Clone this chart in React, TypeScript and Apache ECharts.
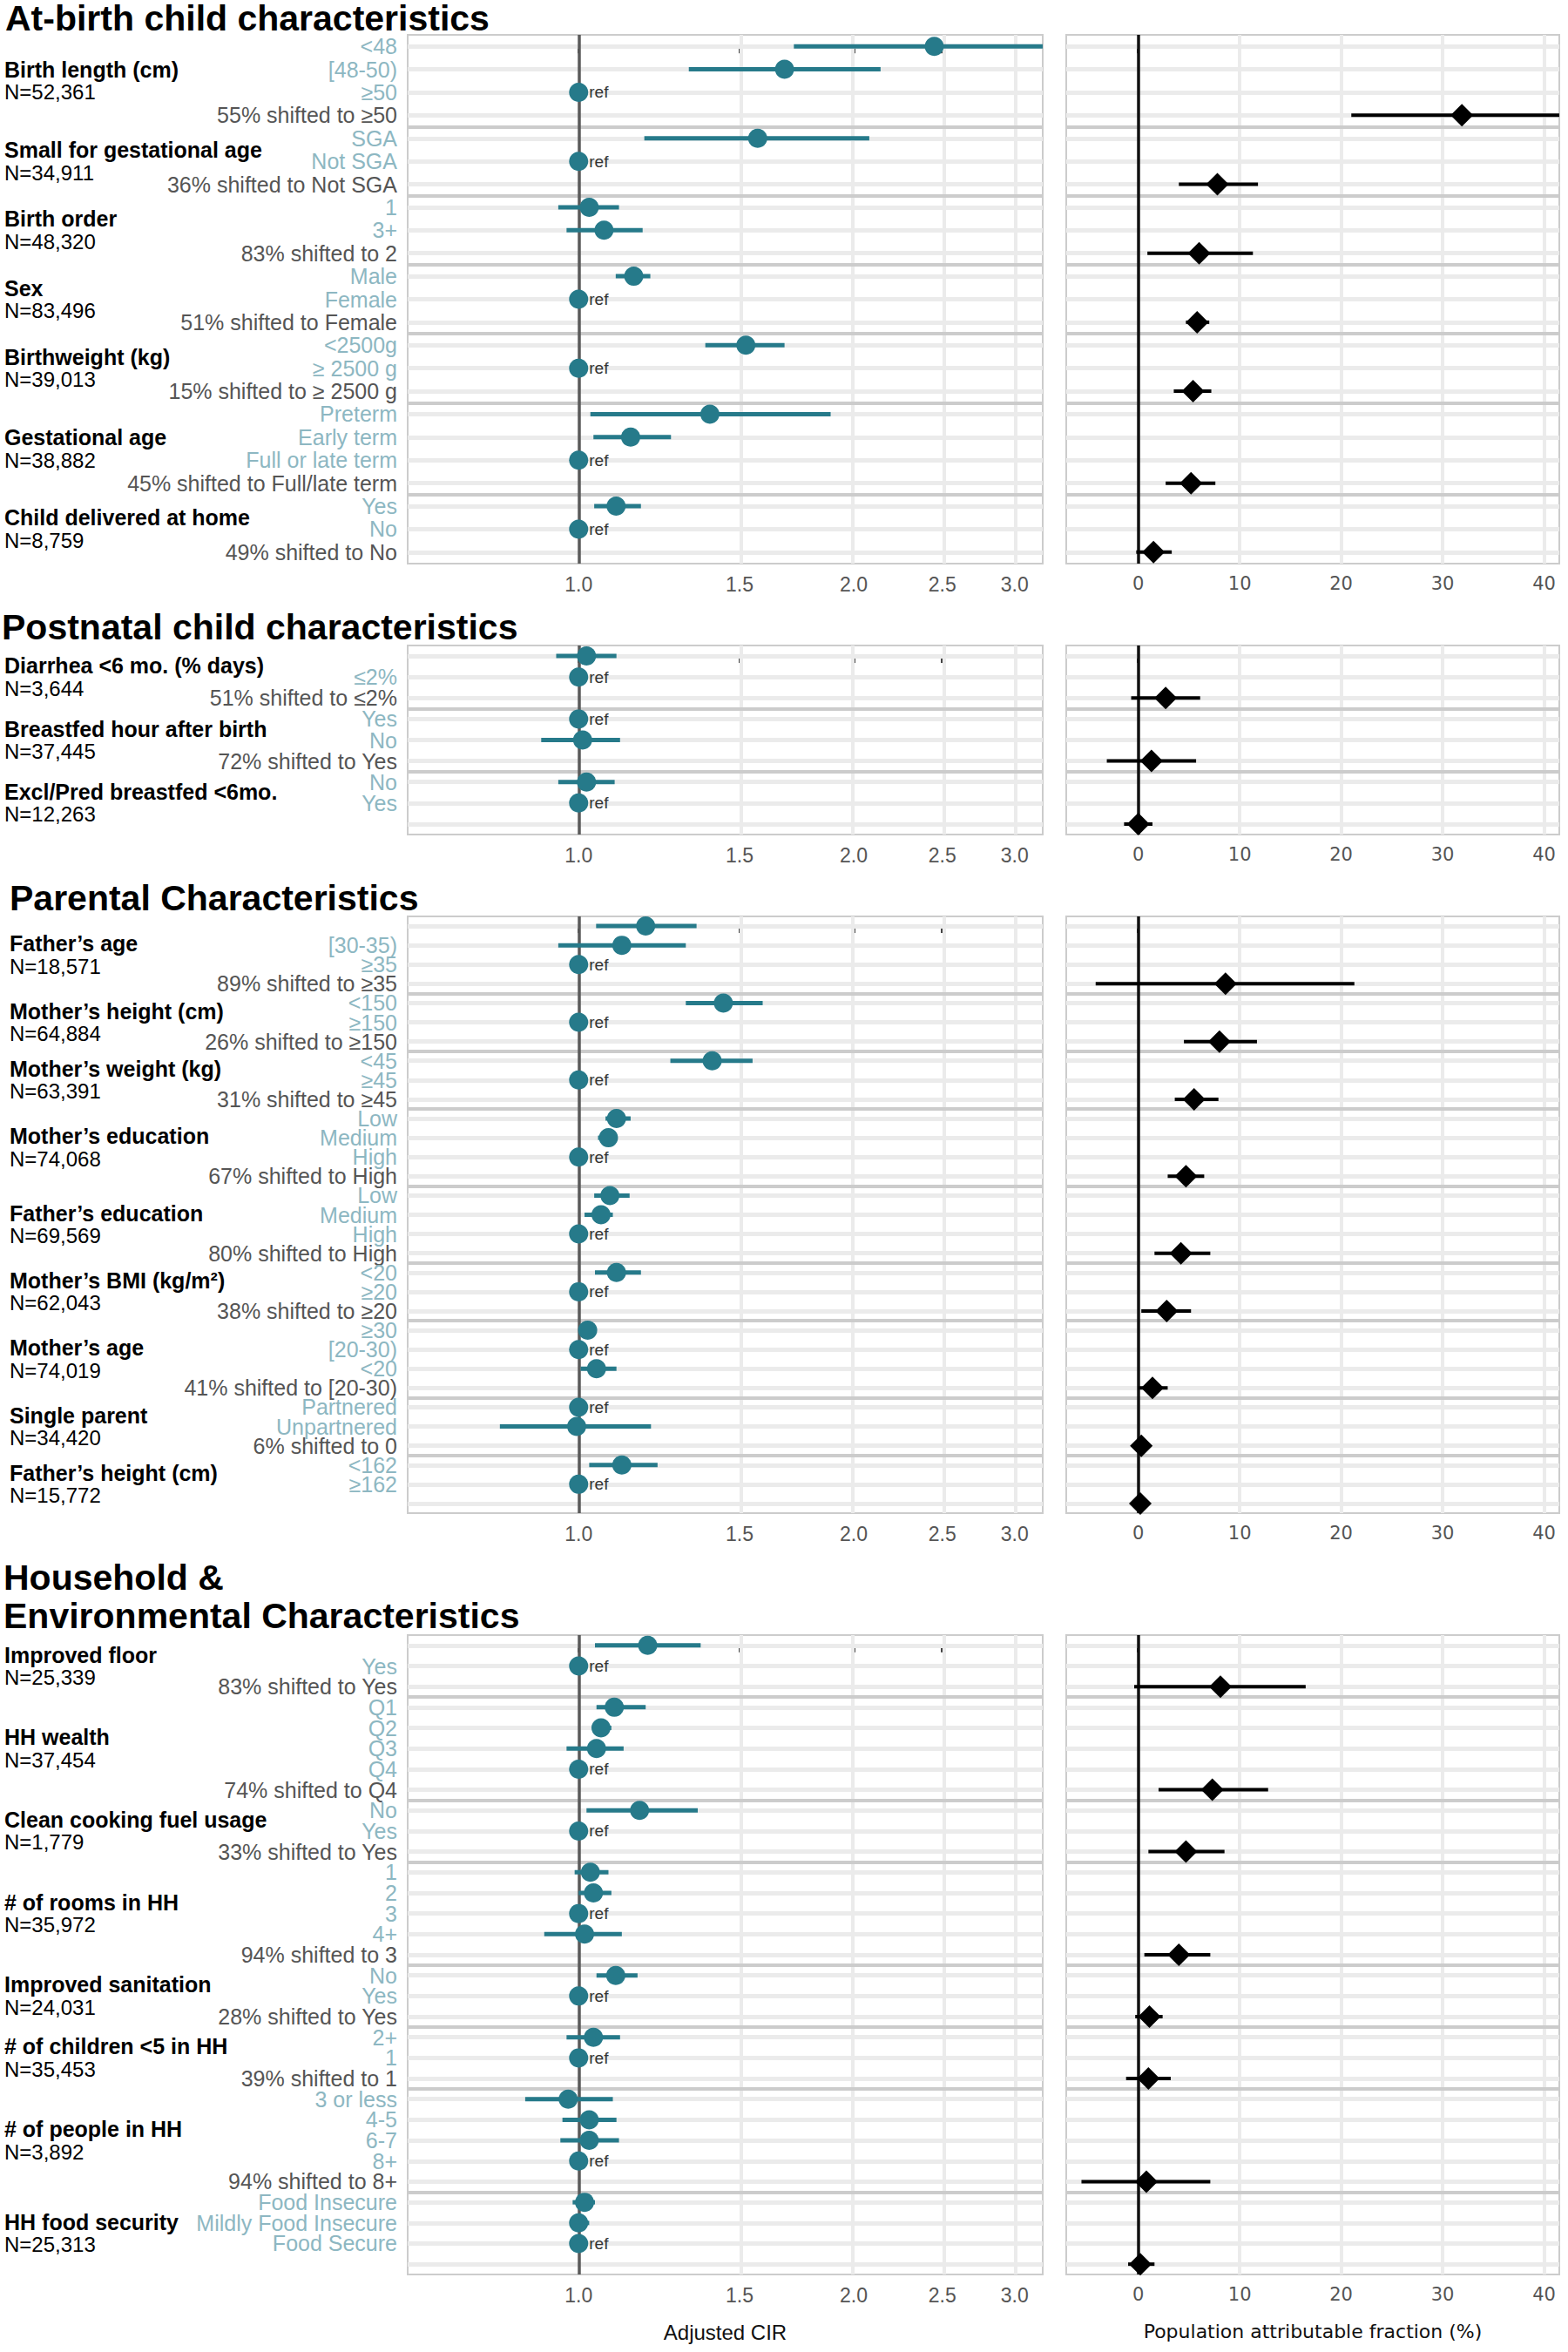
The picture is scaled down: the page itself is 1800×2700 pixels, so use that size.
import React, { useEffect, useRef } from "react";
import * as echarts from "echarts";

const sectionTitles = ["At-birth child characteristics", "Postnatal child characteristics", "Parental Characteristics", "Household &\nEnvironmental Characteristics"];
const groupSection = [0, 0, 0, 0, 0, 0, 0, 1, 1, 1, 2, 2, 2, 2, 2, 2, 2, 2, 2, 3, 3, 3, 3, 3, 3, 3, 3];
const groupNames = [
  "Birth length (cm)", "Small for gestational age", "Birth order", "Sex", "Birthweight (kg)", "Gestational age", "Child delivered at home",
  "Diarrhea <6 mo. (% days)", "Breastfed hour after birth", "Excl/Pred breastfed <6mo.",
  "Father’s age", "Mother’s height (cm)", "Mother’s weight (kg)", "Mother’s education", "Father’s education", "Mother’s BMI (kg/m²)", "Mother’s age", "Single parent", "Father’s height (cm)",
  "Improved floor", "HH wealth", "Clean cooking fuel usage", "# of rooms in HH", "Improved sanitation", "# of children <5 in HH", "# of people in HH", "HH food security",
];
const groupN = [
  "52,361", "34,911", "48,320", "83,496", "39,013", "38,882", "8,759",
  "3,644", "37,445", "12,263",
  "18,571", "64,884", "63,391", "74,068", "69,569", "62,043", "74,019", "34,420", "15,772",
  "25,339", "37,454", "1,779", "35,972", "24,031", "35,453", "3,892", "25,313",
];
const groupLevels = [
  ["<48", "[48-50)", "≥50"], ["SGA", "Not SGA"], ["1", "3+"], ["Male", "Female"], ["<2500g", "≥ 2500 g"], ["Preterm", "Early term", "Full or late term"], ["Yes", "No"],
  [">2%", "≤2%"], ["Yes", "No"], ["No", "Yes"],
  ["<30", "[30-35)", "≥35"], ["<150", "≥150"], ["<45", "≥45"], ["Low", "Medium", "High"], ["Low", "Medium", "High"], ["<20", "≥20"], ["≥30", "[20-30)", "<20"], ["Partnered", "Unpartnered"], ["<162", "≥162"],
  ["No", "Yes"], ["Q1", "Q2", "Q3", "Q4"], ["No", "Yes"], ["1", "2", "3", "4+"], ["No", "Yes"], ["2+", "1"], ["3 or less", "4-5", "6-7", "8+"], ["Food Insecure", "Mildly Food Insecure", "Food Secure"],
];
const shiftLabels = [
  "55% shifted to ≥50", "36% shifted to Not SGA", "83% shifted to 2", "51% shifted to Female", "15% shifted to ≥ 2500 g", "45% shifted to Full/late term", "49% shifted to No",
  "51% shifted to ≤2%", "72% shifted to Yes", "32% shifted to Yes",
  "89% shifted to ≥35", "26% shifted to ≥150", "31% shifted to ≥45", "67% shifted to High", "80% shifted to High", "38% shifted to ≥20", "41% shifted to [20-30)", "6% shifted to 0", "4% shifted to ≥162",
  "83% shifted to Yes", "74% shifted to Q4", "33% shifted to Yes", "94% shifted to 3", "28% shifted to Yes", "39% shifted to 1", "94% shifted to 8+", "50% shifted to Food Secure",
];
// CIR per level (1 = reference)
const cirEst = [
  [2.45, 1.68, 1], [1.57, 1], [1.027, 1.066], [1.149, 1], [1.524, 1], [1.392, 1.14, 1], [1.099, 1],
  [1.02, 1], [1, 1.01], [1.02, 1],
  [1.184, 1.115, 1], [1.44, 1], [1.40, 1], [1.10, 1.078, 1], [1.082, 1.058, 1], [1.10, 1], [1.023, 1, 1.046], [1, 0.995], [1.115, 1],
  [1.19, 1], [1.094, 1.058, 1.046, 1], [1.166, 1], [1.03, 1.038, 1, 1.015], [1.098, 1], [1.038, 1], [0.974, 1.027, 1.027, 1], [1.015, 1.0, 1],
];
const cirLo = [
  [1.72, 1.32, 1], [1.18, 1], [0.95, 0.97], [1.098, 1], [1.376, 1], [1.03, 1.038, 1], [1.04, 1],
  [0.945, 1], [1, 0.91], [0.95, 1],
  [1.045, 0.95, 1], [1.31, 1], [1.26, 1], [1.07, 1.05, 1], [1.04, 1.015, 1], [1.042, 1], [1.0, 1, 1.005], [1, 0.82], [1.027, 1],
  [1.042, 1], [1.046, 1.04, 0.97, 1], [1.02, 1], [0.99, 1.0, 1, 0.917], [1.046, 1], [0.97, 1], [0.874, 0.96, 0.955, 1], [0.985, 0.98, 1],
];
const cirHi = [
  [3.6, 2.14, 1], [2.08, 1], [1.107, 1.175], [1.198, 1], [1.68, 1], [1.887, 1.262, 1], [1.17, 1],
  [1.1, 1], [1, 1.11], [1.095, 1],
  [1.346, 1.31, 1], [1.59, 1], [1.55, 1], [1.14, 1.098, 1], [1.137, 1.09, 1], [1.17, 1], [1.045, 1, 1.10], [1, 1.2], [1.22, 1],
  [1.36, 1], [1.184, 1.086, 1.12, 1], [1.35, 1], [1.078, 1.086, 1, 1.115], [1.16, 1], [1.11, 1], [1.09, 1.10, 1.107, 1], [1.042, 1.027, 1],
];
const refIndex = [2, 1, -1, 1, 1, 2, 1, 1, 0, 1, 2, 1, 1, 2, 2, 1, 1, 0, 1, 1, 3, 1, 2, 1, 1, 3, 2];
const pafEst = [31.9, 7.8, 6.0, 5.8, 5.4, 5.2, 1.5, 2.7, 1.3, 0.0, 8.6, 8.0, 5.5, 4.7, 4.2, 2.8, 1.4, 0.3, 0.2, 8.1, 7.3, 4.7, 4.0, 1.1, 1.0, 0.8, 0.2];
const pafLo = [21.0, 4.0, 0.9, 4.7, 3.5, 2.7, -0.2, -0.7, -3.1, -1.4, -4.2, 4.5, 3.6, 2.9, 1.6, 0.3, 0.0, -0.3, -0.2, -0.4, 2.0, 1.0, 0.6, -0.3, -1.2, -5.6, -1.0];
const pafHi = [43.0, 11.8, 11.3, 7.0, 7.2, 7.6, 3.3, 6.1, 5.7, 1.4, 21.3, 11.7, 7.9, 6.5, 7.1, 5.2, 2.9, 1.0, 0.6, 16.5, 12.8, 8.5, 7.1, 2.4, 3.2, 7.1, 1.6];

const cirTicks = [1.0, 1.5, 2.0, 2.5, 3.0];
const pafTicks = [0, 10, 20, 30, 40];

const TEAL = "#267a8a";
const LEVEL_COLOR = "#8db7c2";
const SHIFT_COLOR = "#555555";
const CIR_MIN = Math.log(0.65), CIR_MAX = Math.log(3.22);
const PAF_MIN = -7.1, PAF_MAX = 41.5;
const FONT = "Liberation Sans, Arial, sans-serif";

// layout (pixels)
const panelTops = [40, 741, 1052, 1877];
const panelBottoms = [647, 958, 1737, 2611];
const titleYs = [[21], [720], [1031], [1811, 1855]];
const titleXs = [6, 2, 11, 4];
const LEFT_X0 = 468, LEFT_X1 = 1197, RIGHT_X0 = 1224, RIGHT_X1 = 1790;

export default function App() {
  const ref = useRef<HTMLDivElement>(null);
  useEffect(() => {
    const chart = echarts.init(ref.current!, undefined, { renderer: "svg" });
    const grids: any[] = [], xAxes: any[] = [], yAxes: any[] = [], series: any[] = [];
    const groupRows: { s: number; g: number; first: number; last: number }[] = [];

    for (let s = 0; s < 4; s++) {
      const rows: { text: string; kind: string }[] = [];
      const pts: any[] = [], refPts: any[] = [], bars: any[] = [], pafPts: any[] = [], pafBars: any[] = [];
      const seps: number[] = [];
      groupNames.forEach((name, g) => {
        if (groupSection[g] !== s) return;
        if (rows.length) seps.push(rows.length - 0.5);
        const first = rows.length;
        groupLevels[g].forEach((lv, i) => {
          const r = rows.length;
          rows.push({ text: lv, kind: "l" });
          if (i === refIndex[g]) refPts.push([0, r]);
          else {
            pts.push([Math.log(cirEst[g][i]), r]);
            bars.push([Math.max(Math.log(cirLo[g][i]), CIR_MIN), Math.min(Math.log(cirHi[g][i]), CIR_MAX), r]);
          }
        });
        const r = rows.length;
        rows.push({ text: shiftLabels[g], kind: "s" });
        pafPts.push([pafEst[g], r]);
        pafBars.push([Math.max(pafLo[g], PAF_MIN), Math.min(pafHi[g], PAF_MAX), r]);
        groupRows.push({ s, g, first, last: r });
      });
      const n = rows.length;
      const rowIdx = rows.map((_, i) => i);
      const top = panelTops[s], h = panelBottoms[s] - panelTops[s];
      grids.push({ left: LEFT_X0, top, width: LEFT_X1 - LEFT_X0, height: h, show: true, borderColor: "#cccccc", borderWidth: 2, backgroundColor: "#fff" });
      grids.push({ left: RIGHT_X0, top, width: RIGHT_X1 - RIGHT_X0, height: h, show: true, borderColor: "#cccccc", borderWidth: 2, backgroundColor: "#fff" });
      const last = s === 3;
      xAxes.push({
        type: "value", gridIndex: 2 * s, min: CIR_MIN, max: CIR_MAX,
        axisLine: { show: false }, splitLine: { show: false },
        axisTick: { show: true, customValues: cirTicks.map(Math.log), length: 8, lineStyle: { color: "#444", width: 3 } },
        axisLabel: { customValues: cirTicks.map(Math.log), formatter: (v: number) => Math.exp(v).toFixed(1), fontSize: 23, color: "#555", fontFamily: FONT, margin: 12 },
        name: last ? "Adjusted CIR" : "", nameLocation: "middle", nameGap: 54, nameTextStyle: { fontSize: 24, color: "#111", fontFamily: FONT },
      });
      xAxes.push({
        type: "value", gridIndex: 2 * s + 1, min: PAF_MIN, max: PAF_MAX,
        axisLine: { show: false }, splitLine: { show: false },
        axisTick: { show: true, customValues: pafTicks, length: 8, lineStyle: { color: "#444", width: 3 } },
        axisLabel: { customValues: pafTicks, fontSize: 21, color: "#555", fontFamily: "DejaVu Sans, sans-serif", margin: 12 },
        name: last ? "Population attributable fraction (%)" : "", nameLocation: "middle", nameGap: 54, nameTextStyle: { fontSize: 22, color: "#111", fontFamily: "DejaVu Sans, sans-serif" },
      });
      yAxes.push({
        type: "value", gridIndex: 2 * s, inverse: true, min: -0.5, max: n - 0.5,
        axisLine: { show: false }, splitLine: { show: false },
        axisTick: { show: true, customValues: rowIdx, length: 9, lineStyle: { color: "#444", width: 3 } },
        axisLabel: {
          customValues: rowIdx, margin: 12, fontSize: 25, fontFamily: FONT,
          formatter: (v: number) => { const row = rows[Math.round(v)]; return row ? `{${row.kind}|${row.text}}` : ""; },
          rich: { l: { color: LEVEL_COLOR, fontSize: 25, fontFamily: FONT }, s: { color: SHIFT_COLOR, fontSize: 25, fontFamily: FONT } },
        },
      });
      yAxes.push({ type: "value", gridIndex: 2 * s + 1, inverse: true, min: -0.5, max: n - 0.5, axisLine: { show: false }, splitLine: { show: false }, axisTick: { show: false }, axisLabel: { show: false } });

      const rowLines = rowIdx.map((i) => ({ yAxis: i }));
      const sepLines = seps.map((v) => ({ yAxis: v }));
      const gridBase = (xi: number, vx: number[]) => ({
        type: "scatter", xAxisIndex: xi, yAxisIndex: xi, data: [], z: 1, silent: true,
        markLine: {
          z: 1, silent: true, symbol: "none", label: { show: false }, animation: false,
          data: [
            ...rowLines.map((d) => ({ ...d, lineStyle: { color: "#ebebeb", width: 5, type: "solid" } })),
            ...vx.map((x) => ({ xAxis: x, lineStyle: { color: "#ebebeb", width: 4, type: "solid" } })),
          ],
        },
      });
      const sepBase = (xi: number, zeroColor: string) => ({
        type: "scatter", xAxisIndex: xi, yAxisIndex: xi, data: [], z: 2, silent: true,
        markLine: {
          z: 2, silent: true, symbol: "none", label: { show: false }, animation: false,
          data: [
            ...sepLines.map((d) => ({ ...d, lineStyle: { color: "#cccccc", width: 4, type: "solid" } })),
            { xAxis: 0, lineStyle: { color: zeroColor, width: 3.5, type: "solid" } },
          ],
        },
      });
      series.push(gridBase(2 * s, cirTicks.slice(1).map(Math.log)));
      series.push(gridBase(2 * s + 1, pafTicks.slice(1)));
      series.push(sepBase(2 * s, "#5a5a5a"));
      series.push(sepBase(2 * s + 1, "#111111"));
      const bar = (xi: number, data: any[], color: string, w: number) => ({
        type: "custom", xAxisIndex: xi, yAxisIndex: xi, data, z: 3, clip: true,
        encode: { x: [0, 1], y: 2 },
        renderItem: (_p: any, api: any) => {
          const y = api.value(2);
          const a = api.coord([api.value(0), y]);
          const b = api.coord([api.value(1), y]);
          return { type: "line", shape: { x1: a[0], y1: a[1], x2: b[0], y2: b[1] }, style: { stroke: color, lineWidth: w } };
        },
      });
      series.push(bar(2 * s, bars, TEAL, 5));
      series.push(bar(2 * s + 1, pafBars, "#000", 4));
      series.push({ type: "scatter", xAxisIndex: 2 * s, yAxisIndex: 2 * s, data: pts, z: 4, symbol: "circle", symbolSize: 22, itemStyle: { color: TEAL, opacity: 1 } });
      series.push({
        type: "scatter", xAxisIndex: 2 * s, yAxisIndex: 2 * s, data: refPts, z: 4, symbol: "circle", symbolSize: 22, itemStyle: { color: TEAL, opacity: 1 },
        label: { show: true, position: "right", distance: 1, formatter: "ref", fontSize: 19, color: "#333", fontFamily: FONT },
      });
      series.push({ type: "scatter", xAxisIndex: 2 * s + 1, yAxisIndex: 2 * s + 1, data: pafPts, z: 4, symbol: "diamond", symbolSize: [26, 26], itemStyle: { color: "#000", opacity: 1 } });
    }

    const graphic: any[] = [];
    sectionTitles.forEach((t, s) => {
      t.split("\n").forEach((line, i) => {
        graphic.push({ type: "text", x: titleXs[s], y: titleYs[s][i], style: { text: line, fontSize: 41, fontWeight: "bold", fill: "#000", fontFamily: FONT, verticalAlign: "middle" } });
      });
    });

    chart.setOption({ animation: false, backgroundColor: "#fff", grid: grids, xAxis: xAxes, yAxis: yAxes, series });

    groupRows.forEach(({ s, g, first, last }) => {
      const p1 = chart.convertToPixel({ gridIndex: 2 * s } as any, [0, first]) as number[];
      const p2 = chart.convertToPixel({ gridIndex: 2 * s } as any, [0, last]) as number[];
      const yc = (p1[1] + p2[1]) / 2;
      graphic.push({
        type: "text", x: titleXs[s] === 11 ? 11 : 5, y: yc, z: 10,
        style: {
          text: `{b|${groupNames[g]}}\n{n|N=${groupN[g]}}`, verticalAlign: "middle",
          rich: { b: { fontSize: 25, fontWeight: "bold", fill: "#000", fontFamily: FONT, lineHeight: 26 }, n: { fontSize: 24, fill: "#000", fontFamily: FONT, lineHeight: 26 } },
        },
      });
    });
    chart.setOption({ graphic });
    return () => chart.dispose();
  }, []);
  return <div ref={ref} style={{ position: "absolute", left: 0, top: 0, width: 1800, height: 2700 }} />;
}
